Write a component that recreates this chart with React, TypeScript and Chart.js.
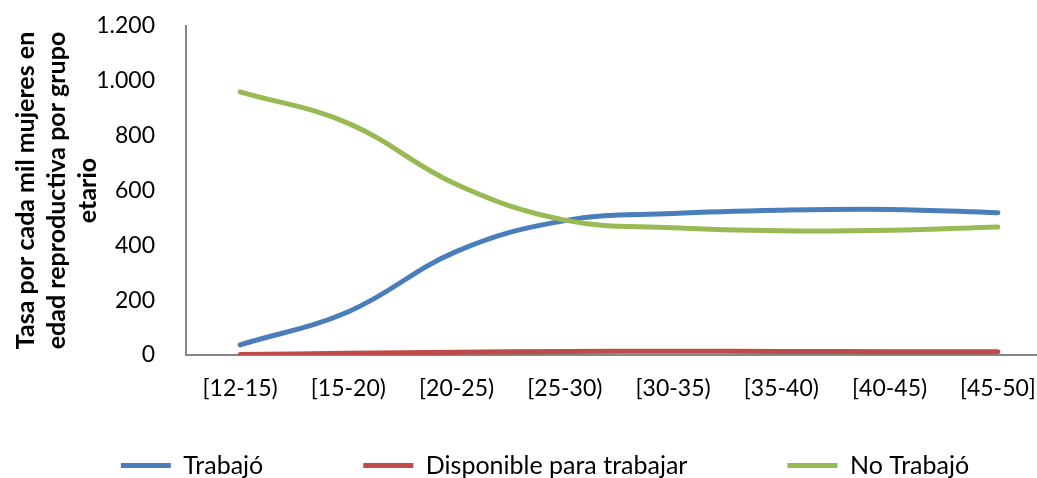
import React, { useEffect, useRef } from "react";
import { Chart, registerables } from "chart.js";

Chart.register(...registerables);

// ---- data ----
const categories = ["[12-15)", "[15-20)", "[20-25)", "[25-30)", "[30-35)", "[35-40)", "[40-45)", "[45-50]"];
const trabajo = [37, 158, 378, 490, 516, 528, 531, 519];
const disponible = [2, 6, 10, 13, 14, 13, 12, 12];
const noTrabajo = [960, 845, 622, 492, 464, 453, 455, 467];
const seriesNames = ["Trabajó", "Disponible para trabajar", "No Trabajó"];
const seriesColors = ["#4A7EBB", "#BE4B48", "#98B954"];
const yTickValues = [0, 200, 400, 600, 800, 1000, 1200];
const yTickLabels = ["0", "200", "400", "600", "800", "1.000", "1.200"];
const yTitleLines = ["Tasa por cada mil mujeres en", "edad reproductiva por grupo", "etario"];

const W = 1090;
const H = 488;
const FONT = "Lato";

export default function App() {
  const ref = useRef<HTMLCanvasElement>(null);

  useEffect(() => {
    const canvas = ref.current;
    if (!canvas) return;
    const values = [trabajo, disponible, noTrabajo];
    const chart = new Chart(canvas, {
      type: "line",
      data: {
        labels: categories,
        datasets: values.map((d, i) => ({
          label: seriesNames[i],
          data: d,
          borderColor: seriesColors[i],
          backgroundColor: seriesColors[i],
          borderWidth: 5,
          pointRadius: 0,
          pointHoverRadius: 0,
          tension: 0.4,
          borderCapStyle: "round" as const,
          borderJoinStyle: "round" as const,
          fill: false,
          order: i === 2 ? -1 : i,
        })),
      },
      options: {
        responsive: false,
        animation: false,
        layout: { padding: { top: 26, left: 0, right: 0, bottom: 0 } },
        plugins: {
          tooltip: { enabled: false },
          legend: {
            position: "bottom",
            title: {
              display: true,
              text: "",
              font: { family: FONT, size: 10, lineHeight: 1.2 },
              padding: { top: 0, bottom: -64 },
            },
            labels: {
              usePointStyle: true,
              pointStyle: "line",
              pointStyleWidth: 50,
              boxHeight: 5,
              padding: 100,
              color: "#000",
              font: { family: FONT, size: 25 },
              sort: (a: any, b: any) => a.datasetIndex - b.datasetIndex,
            },
          },
        },
        scales: {
          x: {
            offset: true,
            grid: { display: false, drawTicks: false },
            border: { display: true, color: "#868686", width: 2 },
            ticks: {
              padding: 20,
              color: "#000",
              maxRotation: 0,
              autoSkip: false,
              font: { family: FONT, size: 23 },
            },
            afterFit: (s: any) => {
              s.height = 50;
            },
          },
          y: {
            min: 0,
            max: 1200,
            grid: { display: false, drawTicks: true, tickLength: 28 },
            border: { display: true, color: "#868686", width: 2 },
            ticks: {
              stepSize: 200,
              padding: 3,
              color: "#000",
              font: { family: FONT, size: 23 },
              callback: (v: any) => {
                const idx = yTickValues.indexOf(Number(v));
                return idx >= 0 ? yTickLabels[idx] : "";
              },
            },
            title: {
              display: true,
              text: yTitleLines,
              color: "#000",
              font: { family: FONT, size: 25, weight: "bold", lineHeight: 1.24 },
              padding: { top: 10.5, bottom: 0 },
            },
            afterFit: (s: any) => {
              s.width = 186;
            },
          },
          yRight: {
            type: "linear",
            position: "right",
            display: true,
            grid: { display: false, drawTicks: false },
            border: { display: false },
            ticks: { display: false },
            afterFit: (s: any) => {
              s.width = W - 1052;
            },
          },
        },
      } as any,
    });
    return () => chart.destroy();
  }, []);

  return (
    <div
      style={{
        position: "fixed",
        left: 0,
        top: 0,
        width: 1037,
        height: 478,
        overflow: "hidden",
        background: "#fff",
      }}
    >
      <canvas ref={ref} width={W} height={H} style={{ width: W, height: H, display: "block" }} />
    </div>
  );
}
